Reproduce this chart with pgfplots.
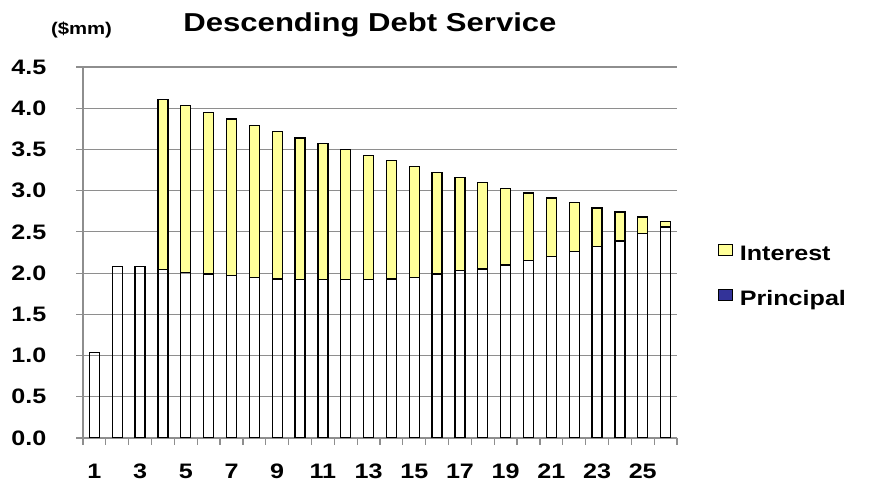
\documentclass[border=0pt]{standalone}
\usepackage{fontspec}
\setmainfont{Liberation Sans}[FakeStretch=1.2]
\usepackage{pgfplots}
\pgfplotsset{compat=1.18}
\definecolor{intc}{HTML}{FFFF99}
\definecolor{princ}{HTML}{333399}
\definecolor{gridc}{HTML}{8E8E8E}
\begin{document}
\begin{tikzpicture}
\useasboundingbox (-83bp,-45bp) rectangle (787bp,438bp);
\begin{axis}[
  scale only axis, width=594bp, height=371bp,
  xmin=0.5, xmax=26.5, ymin=0, ymax=4.5,
  ybar stacked, bar width=10bp,
  axis x line*=bottom, axis y line*=left,
  axis line style={gridc, line width=1.2bp, -},
  tick align=outside, major tick length=6.5bp,
  tick style={gridc, line width=1.2bp},
  ymajorgrids, grid style={gridc, line width=1.2bp},
  ytick={0,0.5,...,4.5},
  yticklabel style={anchor=east, inner sep=0pt, xshift=-30bp,
    /pgf/number format/.cd, fixed, fixed zerofill, precision=1, assume math mode=true},
  xtick={0.5,1.5,...,26.5}, xticklabels={},
  extra x ticks={1,3,...,25},
  extra x tick labels={1,3,5,7,9,11,13,15,17,19,21,23,25},
  extra x tick style={major tick length=0pt, grid=none,
    xticklabel style={anchor=base, inner sep=0pt, yshift=-40bp}},
  tick label style={font=\bfseries\fontsize{21}{25}\selectfont},
  reverse legend,
  legend cell align=left,
  legend style={at={(1.069,0.523)}, anchor=north west, draw=none, fill=none,
    inner sep=0pt, outer sep=0pt, row sep=24bp,
    font=\bfseries\fontsize{21}{25}\selectfont,
    nodes={inner sep=0pt, text height=15bp, text depth=5bp},
    /tikz/every odd column/.append style={column sep=7bp}},
]
\addplot[draw=black, fill=none, line width=1.3bp,
  legend image code/.code={\draw[fill=princ,draw=black,line width=0.9bp] (0bp,0bp) rectangle (14bp,11bp);}]
coordinates {
(1,1.04) (2,2.08) (3,2.08) (4,2.04) (5,2.01) (6,1.99) (7,1.97) (8,1.95) (9,1.93) (10,1.92)
(11,1.92) (12,1.92) (13,1.92) (14,1.93) (15,1.95) (16,1.99) (17,2.03) (18,2.05) (19,2.10) (20,2.15)
(21,2.20) (22,2.26) (23,2.32) (24,2.39) (25,2.48) (26,2.56)};
\addlegendentry{Principal}
\addplot[draw=black, fill=intc, line width=1.3bp,
  legend image code/.code={\draw[fill=intc,draw=black,line width=0.9bp] (0bp,0bp) rectangle (14bp,11bp);}]
coordinates {
(1,0) (2,0) (3,0) (4,2.07) (5,2.02) (6,1.96) (7,1.90) (8,1.84) (9,1.79) (10,1.72)
(11,1.65) (12,1.58) (13,1.51) (14,1.44) (15,1.34) (16,1.23) (17,1.13) (18,1.05) (19,0.93) (20,0.82)
(21,0.71) (22,0.60) (23,0.47) (24,0.35) (25,0.20) (26,0.07)};
\addlegendentry{Interest}
\end{axis}
\node[anchor=base, font=\bfseries\fontsize{26}{31}\selectfont] at (287bp,406bp) {Descending Debt Service};
\node[anchor=base, font=\bfseries\fontsize{17}{20}\selectfont] at (-1.5bp,403bp) {(\$mm)};
\end{tikzpicture}
\end{document}
